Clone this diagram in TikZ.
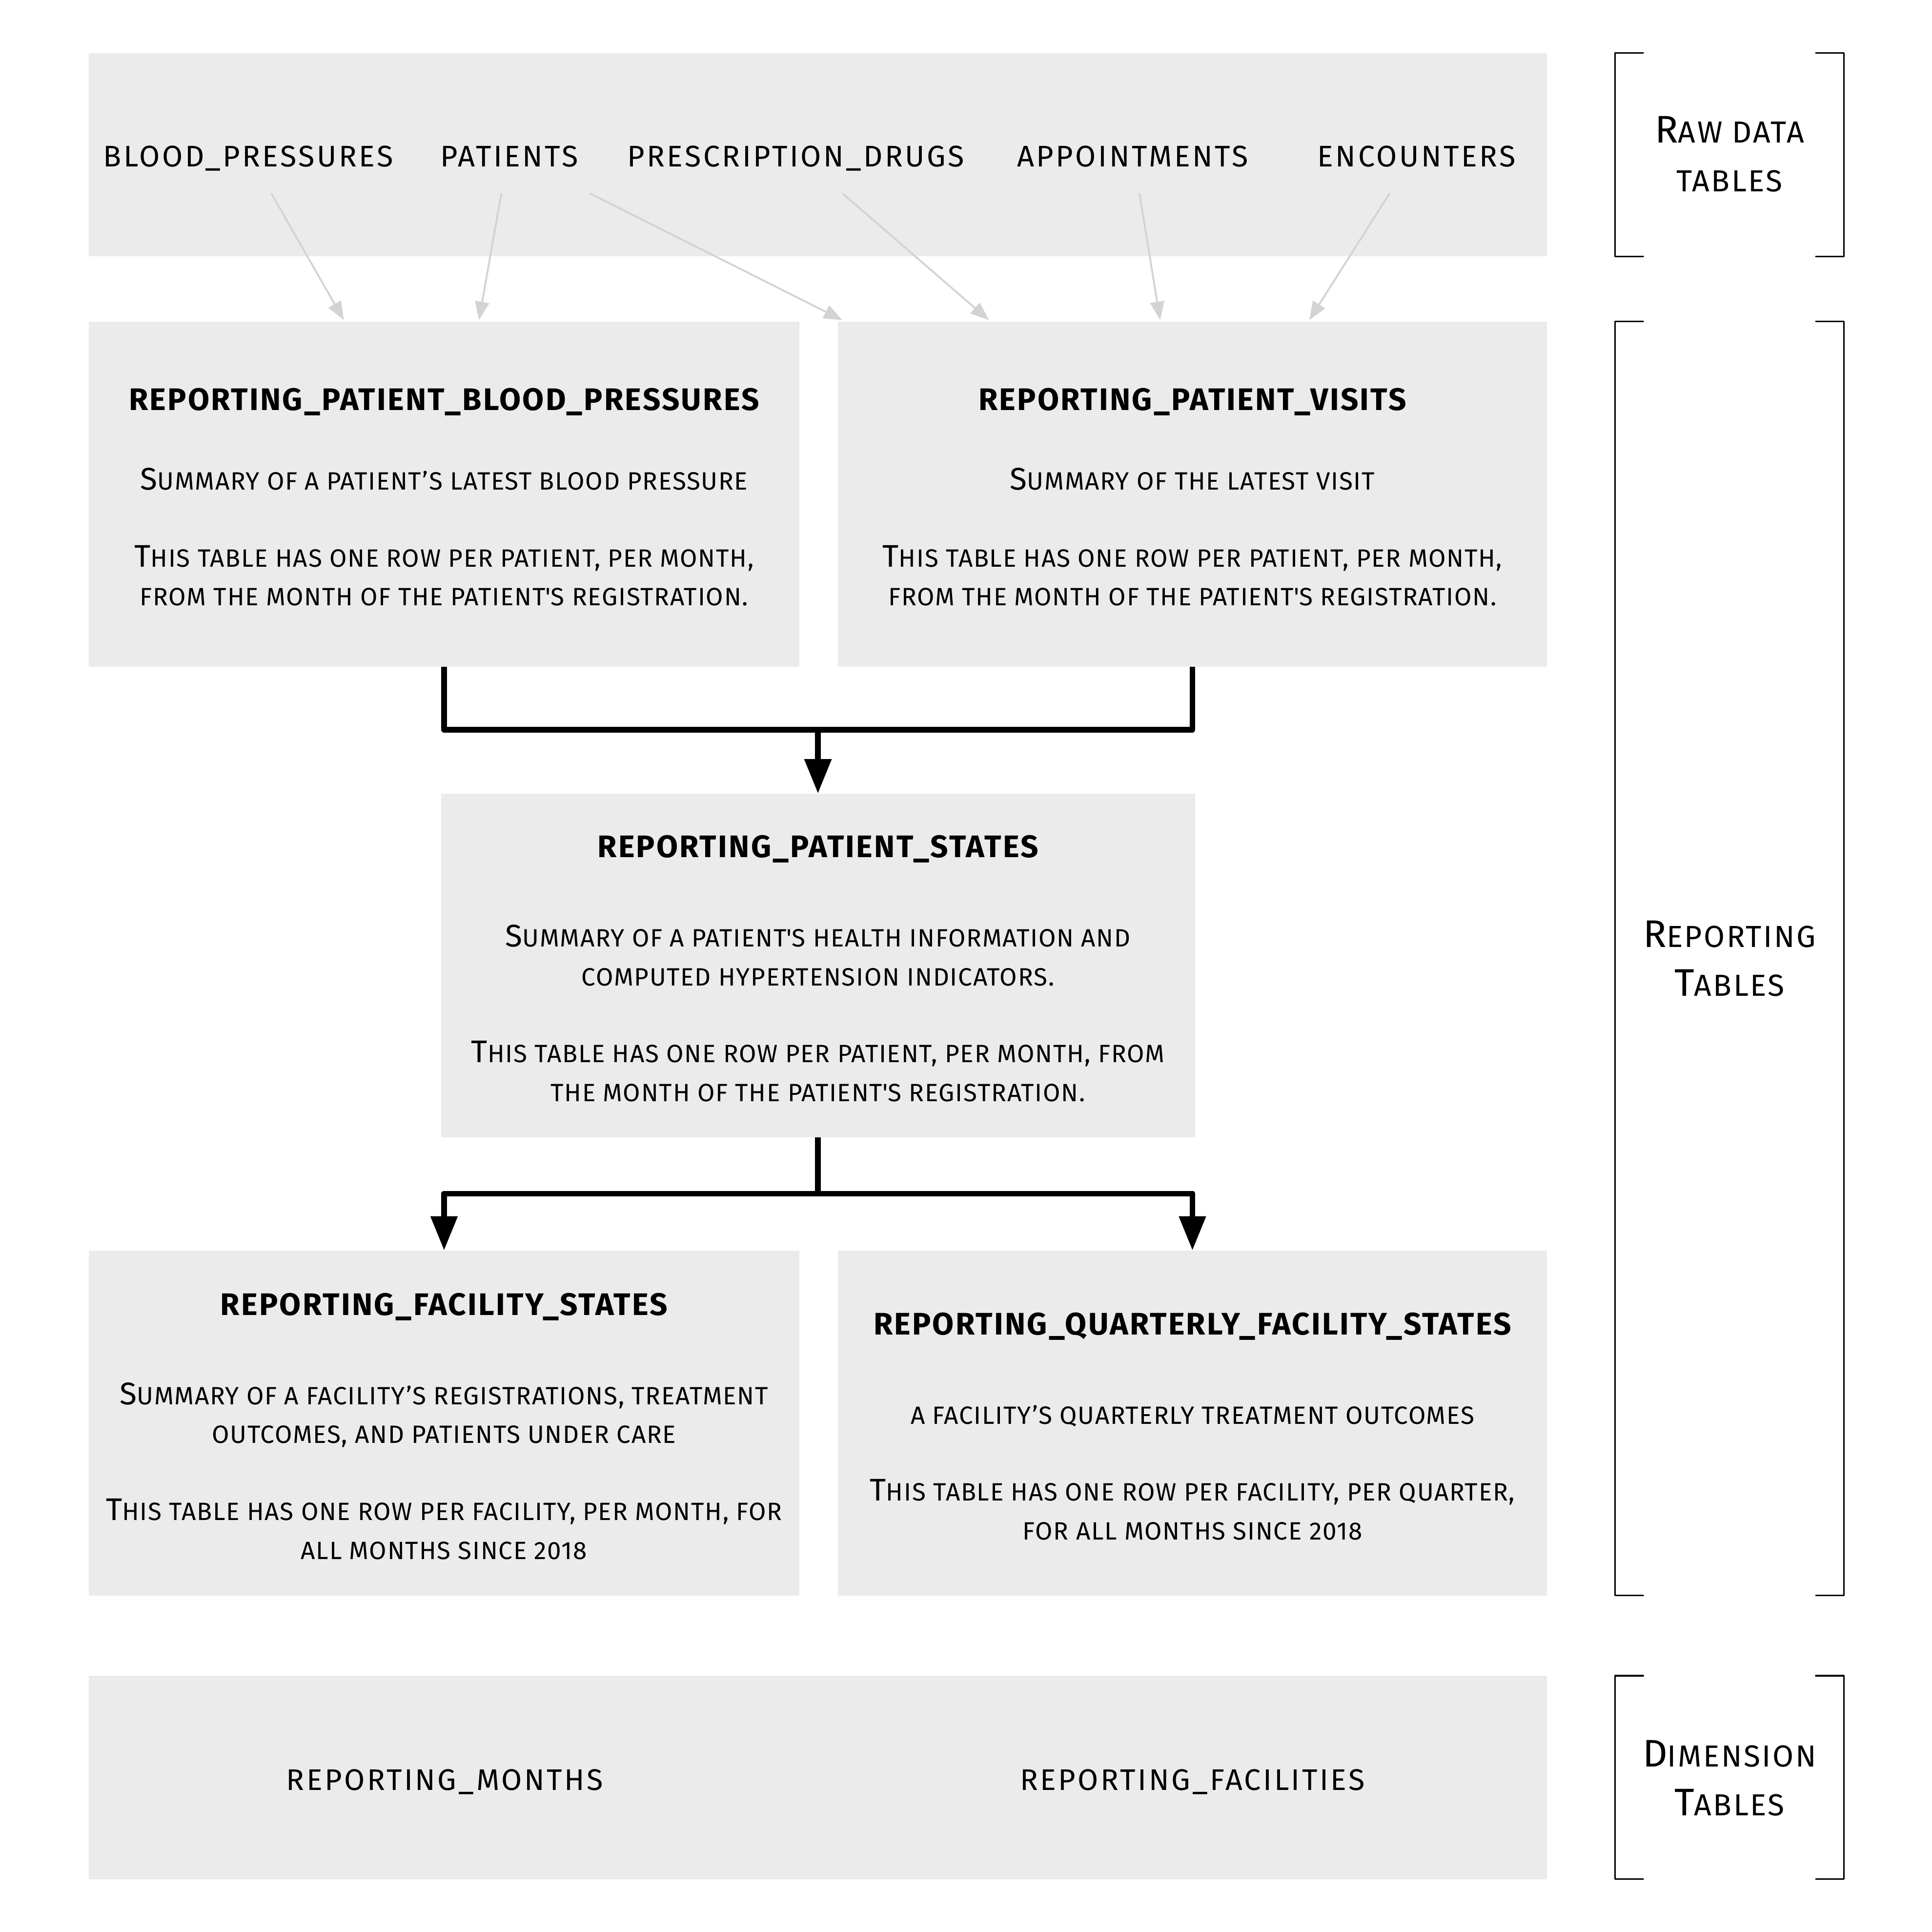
\documentclass[tikz,border=0pt]{standalone}
\usepackage{fontspec}
\setmainfont{Fira Sans}
\usetikzlibrary{arrows.meta}

\definecolor{boxgray}{RGB}{235,235,235}
\definecolor{edgegray}{RGB}{211,211,211}

% small-caps styling: capitals for initials, smaller capitals for the rest
\newcommand\bodyfont{\fontsize{20.3}{31.5}\selectfont\addfontfeature{LetterSpace=3.3}}
\newcommand\initcap[1]{{\fontsize{25.4}{31.5}\selectfont #1}}
\newcommand\titlefont{\bfseries\fontsize{25.3}{31.5}\selectfont\addfontfeature{LetterSpace=5}}
\newcommand\labelfont{\fontsize{24.2}{30}\selectfont\addfontfeature{LetterSpace=7.3}}
\newcommand\sidefont{\fontsize{24.7}{39.4}\selectfont\addfontfeature{LetterSpace=5.5}}
\newcommand\sidecap[1]{{\fontsize{31.2}{39.4}\selectfont #1}}

\tikzset{
  tablebox/.style={fill=boxgray, draw=none, inner sep=0pt,
    minimum width=577pt, minimum height=280pt},
  tabletext/.style={inner sep=0pt, align=center, font=\bodyfont},
  band/.style={fill=boxgray, draw=none, inner sep=0pt,
    minimum width=1184pt, minimum height=165pt},
  tablename/.style={font=\labelfont, inner sep=0pt, anchor=base},
  sidelabel/.style={font=\sidefont, align=center, inner sep=0pt},
  rawedge/.style={draw=edgegray, line width=1.5pt,
    -{Triangle[length=15pt,width=11.5pt]}},
  flow/.style={draw=black, line width=4.5pt, line join=round,
    -{Triangle[length=27.7pt,width=21pt]}},
  bracket/.style={draw=black, line width=1.2pt, line cap=round, line join=round},
}

\begin{document}
\begin{tikzpicture}[x=1pt, y=-1pt]
\useasboundingbox (0,0) rectangle (1568,1568);

% raw data tables
\node[band] (raw) at (664,125.5) {};
\node[tablename] (bp)  at (201.5,135.3) {BLOOD\_PRESSURES};
\node[tablename] (pat) at (413.5,135.3) {PATIENTS};
\node[tablename] (rx)  at (646,135.3)   {PRESCRIPTION\_DRUGS};
\node[tablename] (apt) at (919.5,135.3) {APPOINTMENTS};
\node[tablename] (enc) at (1150,135.3)  {ENCOUNTERS};

% reporting tables (text sits slightly below each box centre)
\node[tablebox] (rpbp) at (360.5,401) {};
\node[tabletext] (rpbp-text) at ([yshift=-2.5pt]rpbp.center) {%
  {\titlefont REPORTING\_PATIENT\_BLOOD\_PRESSURES}\\[33pt]
  \initcap{S}UMMARY OF A PATIENT’S LATEST BLOOD PRESSURE\\[31pt]
  \initcap{T}HIS TABLE HAS ONE ROW PER PATIENT, PER MONTH,\\
  FROM THE MONTH OF THE PATIENT\textquotesingle S REGISTRATION.};

\node[tablebox, minimum width=576pt] (rpv) at (968,401) {};
\node[tabletext] (rpv-text) at ([yshift=-2.5pt]rpv.center) {%
  {\titlefont REPORTING\_PATIENT\_VISITS}\\[33pt]
  \initcap{S}UMMARY OF THE LATEST VISIT\\[31pt]
  \initcap{T}HIS TABLE HAS ONE ROW PER PATIENT, PER MONTH,\\
  FROM THE MONTH OF THE PATIENT\textquotesingle S REGISTRATION.};

\node[tablebox, minimum width=612pt, minimum height=279pt] (rps) at (664,783.5) {};
\node[tabletext] (rps-text) at ([yshift=-2.5pt]rps.center) {%
  {\titlefont REPORTING\_PATIENT\_STATES}\\[41pt]
  \initcap{S}UMMARY OF A PATIENT\textquotesingle S HEALTH INFORMATION AND\\
  COMPUTED HYPERTENSION INDICATORS.\\[31pt]
  \initcap{T}HIS TABLE HAS ONE ROW PER PATIENT, PER MONTH, FROM\\
  THE MONTH OF THE PATIENT\textquotesingle S REGISTRATION.};

\node[tablebox] (rfs) at (360.5,1155) {};
\node[tabletext] (rfs-text) at ([yshift=-2.5pt]rfs.center) {%
  {\titlefont REPORTING\_FACILITY\_STATES}\\[41pt]
  \initcap{S}UMMARY OF A FACILITY’S REGISTRATIONS, TREATMENT\\
  OUTCOMES, AND PATIENTS UNDER CARE\\[31pt]
  \initcap{T}HIS TABLE HAS ONE ROW PER FACILITY, PER MONTH, FOR\\
  ALL MONTHS SINCE 2018};

\node[tablebox, minimum width=576pt] (rqfs) at (968,1155) {};
\node[tabletext] (rqfs-text) at ([yshift=-2.5pt]rqfs.center) {%
  {\titlefont REPORTING\_QUARTERLY\_FACILITY\_STATES}\\[41pt]
  A FACILITY’S QUARTERLY TREATMENT OUTCOMES\\[31pt]
  \initcap{T}HIS TABLE HAS ONE ROW PER FACILITY, PER QUARTER,\\
  FOR ALL MONTHS SINCE 2018};

% dimension tables
\node[band] (dim) at (664,1442.5) {};
\node[tablename] (months) at (361,1453) {REPORTING\_MONTHS};
\node[tablename] (facs)   at (968,1453) {REPORTING\_FACILITIES};

% raw data feeding the first reporting tables
\draw[rawedge] ([shift={(18.8,21.7)}]bp.base)  -- ([shift={(207.3,-1)}]rpbp.north west);
\draw[rawedge] ([shift={(-6.5,21.7)}]pat.base) -- ([shift={(317,-1)}]rpbp.north west);
\draw[rawedge] ([shift={(65.5,21.7)}]pat.base) -- ([shift={(4,-1)}]rpv.north west);
\draw[rawedge] ([shift={(38,21.7)}]rx.base)    -- ([shift={(123,-1)}]rpv.north west);
\draw[rawedge] ([shift={(5.5,21.7)}]apt.base)  -- ([shift={(262,-1)}]rpv.north west);
\draw[rawedge] ([shift={(-22,21.7)}]enc.base)  -- ([shift={(383,-1)}]rpv.north west);

% reporting pipeline
\draw[flow] (rpbp.south) -- ++(0,51) -| (rps.north);
\draw[flow] (rpv.south)  -- ++(0,51) -| (rps.north);
\draw[flow] (rps.south)  -- ++(0,45.5) -| (rfs.north);
\draw[flow] (rps.south)  -- ++(0,45.5) -| (rqfs.north);

% side brackets and their captions
\draw[bracket] (1334,43) -- (1311,43) -- (1311,208) -- (1334,208);
\draw[bracket] (1474,43) -- (1497,43) -- (1497,208) -- (1474,208);
\node[sidelabel] (rawcap) at (1404,125) {\sidecap{R}AW DATA\\TABLES};

\draw[bracket] (1334,261) -- (1311,261) -- (1311,1295) -- (1334,1295);
\draw[bracket] (1474,261) -- (1497,261) -- (1497,1295) -- (1474,1295);
\node[sidelabel] (repcap) at (1404,778) {\sidecap{R}EPORTING\\\sidecap{T}ABLES};

\draw[bracket] (1334,1360) -- (1311,1360) -- (1311,1525) -- (1334,1525);
\draw[bracket] (1474,1360) -- (1497,1360) -- (1497,1525) -- (1474,1525);
\node[sidelabel] (dimcap) at (1404,1443) {\sidecap{D}IMENSION\\\sidecap{T}ABLES};
\end{tikzpicture}
\end{document}
